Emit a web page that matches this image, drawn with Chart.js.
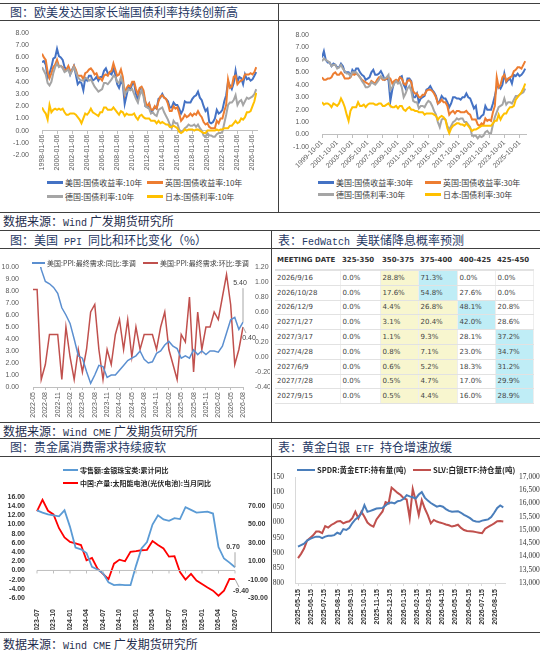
<!DOCTYPE html>
<html>
<head>
<meta charset="utf-8">
<script src="https://cdn.jsdelivr.net/npm/chart.js@4.4.1/dist/chart.umd.min.js"></script>
<style>
  body { margin: 0; width: 550px; height: 655px; background: #fff; position: relative; overflow: hidden;
         font-family: "Noto Sans CJK SC", sans-serif; }
  .hl { position: absolute; height: 0; border-top: 1.5px solid #404040; }
  .vl { position: absolute; width: 0; border-left: 1px solid #404040; }
  .title, .src { position: absolute; font-size: 12px; line-height: 14px; color: #1f3864; white-space: nowrap; }
  .src { color: #1f2d4d; }
  .lat { font-family: "Liberation Mono", monospace; font-size: 10px; }
  canvas { position: absolute; }
  .lg { position: absolute; font-size: 8px; line-height: 10px; color: #404040; white-space: nowrap; z-index: 2; }
  .lg i { display: inline-block; width: 16px; height: 3px; vertical-align: middle; margin-right: 2px; position: relative; top: -1px; }
  .lg.b { font-weight: bold; color: #262626; font-size: 7px; }
  #fed { position: absolute; left: 275px; top: 251px; width: 258px; border-collapse: collapse; table-layout: fixed;
         font-family: "DejaVu Sans", sans-serif; font-size: 7px; color: #444; }
  #fed th { font-weight: bold; text-align: left; height: 18px; padding: 0 0 0 2px; border-bottom: 2px solid #e2e2e2; color: #333; }
  #fed td { height: 13.8px; padding: 0 0 0 2px; border-bottom: 1.5px solid #e2e2e2; border-right: 1px solid #eee; }
  #fed td.ye { background: #f8f6cf; }
  #fed td.cy { background: #bfedf6; }
</style>
</head>
<body>

<!-- frame lines -->
<div class="hl" style="left:0;top:3px;width:540px"></div>
<div class="hl" style="left:0;top:20px;width:540px"></div>
<div class="vl" style="left:278px;top:3px;height:209px"></div>
<div class="hl" style="left:0;top:212px;width:540px"></div>

<div class="hl" style="left:0;top:230px;width:540px"></div>
<div class="hl" style="left:0;top:248px;width:540px"></div>
<div class="vl" style="left:271px;top:230px;height:192px"></div>
<div class="hl" style="left:0;top:422px;width:540px"></div>

<div class="hl" style="left:0;top:438px;width:540px"></div>
<div class="hl" style="left:0;top:456px;width:540px"></div>
<div class="vl" style="left:271px;top:438px;height:194px"></div>
<div class="hl" style="left:0;top:632px;width:540px"></div>

<div class="title" style="left:10px;top:5px">图：欧美发达国家长端国债利率持续创新高</div>
<div class="src" style="left:3px;top:214px">数据来源：<span class="lat">Wind</span> 广发期货研究所</div>
<div class="title" style="left:10px;top:233px">图：美国<span class="lat"> PPI </span>同比和环比变化（%）</div>
<div class="title" style="left:278px;top:233px">表：<span class="lat">FedWatch </span>美联储降息概率预测</div>
<div class="src" style="left:3px;top:424px">数据来源：<span class="lat">Wind CME</span> 广发期货研究所</div>
<div class="title" style="left:10px;top:440px">图：贵金属消费需求持续疲软</div>
<div class="title" style="left:278px;top:440px">表：黄金白银<span class="lat"> ETF </span>持仓增速放缓</div>
<div class="src" style="left:3px;top:637px">数据来源：<span class="lat">Wind CME</span> 广发期货研究所</div>

<canvas id="c1" width="276" height="150" style="left:0;top:22px"></canvas>
<canvas id="c2" width="260" height="150" style="left:280px;top:22px"></canvas>
<canvas id="c3" width="270" height="168" style="left:0;top:250px"></canvas>
<canvas id="c5" width="270" height="172" style="left:0;top:458px"></canvas>
<canvas id="c6" width="267" height="172" style="left:273px;top:458px"></canvas>
<table id="fed"><colgroup><col style="width:65px"><col style="width:40px"><col style="width:38px"><col style="width:39px"><col style="width:38px"><col style="width:38px"></colgroup></table>

<!-- legends -->
<div class="lg" style="left:47px;top:178px"><i style="background:#4472c4"></i>美国:国债收益率:10年</div>
<div class="lg" style="left:147px;top:178px"><i style="background:#ed7d31"></i>英国:国债收益率:10年</div>
<div class="lg" style="left:47px;top:192px"><i style="background:#a5a5a5"></i>德国:国债利率:10年</div>
<div class="lg" style="left:147px;top:192px"><i style="background:#ffc000"></i>日本:国债利率:10年</div>

<div class="lg" style="left:318px;top:178px"><i style="background:#4472c4"></i>美国:国债收益率:30年</div>
<div class="lg" style="left:425px;top:178px"><i style="background:#ed7d31"></i>英国:国债收益率:30年</div>
<div class="lg" style="left:318px;top:190px"><i style="background:#a5a5a5"></i>德国:国债利率:30年</div>
<div class="lg" style="left:425px;top:190px"><i style="background:#ffc000"></i>日本:国债利率:30年</div>

<div class="lg" style="left:32px;top:258px;font-size:7px"><i style="background:#5b8fd0;width:13px;height:2px"></i>美国:PPI:最终需求:同比:季调</div>
<div class="lg" style="left:143px;top:258px;font-size:7px"><i style="background:#c0504d;width:15px;height:2px"></i>美国:PPI:最终需求:环比:季调</div>

<div class="lg b" style="left:63px;top:465px"><i style="background:#5b9bd5;width:15px;height:2px"></i>零售额:金银珠宝类:累计同比</div>
<div class="lg b" style="left:63px;top:478px"><i style="background:#ff0000;width:15px;height:2px"></i>中国:产量:太阳能电池(光伏电池):当月同比</div>

<div class="lg b" style="left:297px;top:465px;font-size:7.5px"><i style="background:#4a7ebb;width:18px;height:2px"></i>SPDR:黄金ETF:持有量(吨)</div>
<div class="lg b" style="left:413px;top:465px;font-size:7.5px"><i style="background:#c0504d;width:18px;height:2px"></i>SLV:白银ETF:持仓量(吨)</div>

<script>
// ---------- data ----------
// 10y yields, quarterly from 1998Q1
const y10Start = 1998;
const us10 = [5.6,5.7,5.4,4.3, 4.7,5.2,5.9,6.0, 6.7,6.1,6.0,5.8, 5.2,5.0,5.2,4.6, 5.0,5.3,4.6,3.8,
  4.0,3.9,3.3,4.3, 4.1,4.5,4.5,4.1, 4.2,4.4,4.1,4.4, 4.4,4.9,5.1,4.7, 4.7,4.6,5.1,4.6,
  3.8,3.5,4.0,3.8, 2.2,2.9,3.6,3.4, 3.8,3.9,3.0,2.5, 3.4,3.5,3.1,2.0, 1.9,2.2,1.5,1.7,
  1.9,1.8,2.6,2.7, 3.0,2.7,2.6,2.4, 1.9,1.9,2.3,2.1, 2.1,1.8,1.4,1.7, 2.4,2.3,2.3,2.3,
  2.6,2.8,2.9,3.2, 2.7,2.5,2.0,1.6, 1.8,0.7,0.6,0.7, 1.0,1.7,1.4,1.5, 1.7,2.4,2.9,4.0,
  3.7,3.4,3.9,4.9, 4.0,4.4,4.3,3.8, 4.6,4.2,4.3,4.1, 4.2,4.5,4.8];
const uk10 = [6.3,6.0,5.8,4.8, 4.3,4.7,5.2,5.4, 5.8,5.3,5.3,5.2, 4.9,5.0,5.3,4.9, 4.9,5.3,5.0,4.5,
  4.5,4.5,4.2,4.7, 4.8,5.0,5.1,4.9, 4.6,4.7,4.3,4.3, 4.1,4.5,4.6,4.5, 4.8,4.9,5.5,5.0,
  4.5,4.6,5.0,4.4, 3.0,3.5,3.7,3.6, 4.0,4.0,3.4,3.0, 3.5,3.6,3.3,2.4, 2.0,2.2,1.7,1.7,
  2.0,1.8,2.4,2.8, 2.9,2.7,2.6,2.2, 1.6,1.6,2.0,1.8, 1.9,1.4,0.8,1.0, 1.3,1.1,1.2,1.4,
  1.2,1.4,1.3,1.6, 1.3,1.1,0.7,0.5, 0.6,0.3,0.2,0.2, 0.2,0.8,0.6,1.0, 1.0,1.6,2.1,4.2,
  3.5,3.6,4.4,4.5, 3.8,4.0,4.1,4.2, 4.6,4.6,4.6,4.7, 4.6,4.8,5.2];
const de10 = [5.2,4.9,4.6,3.9, 3.7,4.0,4.7,5.2, 5.5,5.2,5.3,5.1, 4.8,4.9,5.0,4.6, 4.9,5.2,4.8,4.4,
  4.2,4.1,4.1,4.3, 4.3,4.1,4.2,3.9, 3.6,3.4,3.2,3.3, 3.4,3.9,3.9,3.8, 4.0,4.2,4.5,4.4,
  4.0,3.9,4.4,3.9, 3.0,3.2,3.4,3.3, 3.4,3.0,2.6,2.3, 2.9,3.3,2.8,2.0, 1.9,1.8,1.4,1.5,
  1.3,1.2,1.7,1.8, 1.9,1.5,1.2,0.9, 0.5,0.2,0.8,0.6, 0.6,0.1,-0.1,0.0, 0.2,0.3,0.5,0.4,
  0.4,0.5,0.3,0.5, 0.2,0.0,-0.4,-0.5, -0.2,-0.4,-0.4,-0.5, -0.5,-0.3,-0.2,-0.2, -0.1,0.6,1.3,2.1,
  2.3,2.3,2.5,2.9, 2.1,2.4,2.5,2.1, 2.4,2.7,2.6,2.7, 2.8,3.0,3.4];
const jp10 = [1.9,1.6,1.4,0.9, 2.1,1.5,1.7,1.8, 1.7,1.8,1.7,1.8, 1.5,1.3,1.3,1.4, 1.4,1.4,1.3,1.1,
  0.9,0.6,1.0,1.4, 1.3,1.5,1.8,1.5, 1.4,1.3,1.2,1.5, 1.5,1.9,1.9,1.7, 1.7,1.7,1.9,1.7,
  1.5,1.3,1.6,1.5, 1.2,1.4,1.3,1.3, 1.3,1.4,1.1,0.9, 1.2,1.3,1.1,1.0, 1.0,1.0,0.8,0.8,
  0.8,0.6,0.8,0.6, 0.7,0.6,0.5,0.5, 0.3,0.3,0.4,0.3, 0.2,-0.1,-0.2,-0.1, 0.1,0.0,0.1,0.1,
  0.1,0.0,0.1,0.1, 0.0,-0.1,-0.2,-0.2, 0.0,0.0,0.0,0.0, 0.0,0.1,0.0,0.1, 0.1,0.2,0.2,0.2,
  0.4,0.4,0.6,0.8, 0.6,0.7,1.0,0.9, 1.1,1.5,1.5,1.6, 2.0,2.4,3.1];
const y10Ticks = ['1998-01-06','2000-01-06','2002-01-06','2004-01-06','2006-01-06','2008-01-06','2010-01-06',
  '2012-01-06','2014-01-06','2016-01-06','2018-01-06','2020-01-06','2022-01-06','2024-01-06','2026-01-06'];

// 30y yields, quarterly from 1999Q4
const y30Start = 1999.75;
const us30 = [6.2, 6.7,6.0,5.8,5.8, 5.5,5.7,5.6,5.4, 5.4,5.7,5.5,5.0, 5.0,5.0,4.7,5.2, 5.0,5.3,5.3,5.0,
  4.8,4.7,4.4,4.5, 4.6,5.0,5.2,4.8, 4.8,4.9,5.1,4.8, 4.4,4.5,4.4,2.7, 3.6,4.2,4.3,4.2,
  4.6,4.7,4.0,3.7, 4.5,4.5,4.3,3.0, 3.0,3.3,2.6,2.9, 3.0,3.1,3.6,3.7, 3.9,3.6,3.4,3.1,
  2.5,2.7,3.1,2.9, 2.9,2.6,2.2,2.5, 3.0,3.0,2.9,2.9, 2.8,3.0,3.0,3.3, 3.0,2.9,2.5,2.1,
  2.3,1.3,1.3,1.5, 1.6,2.3,2.0,2.0, 2.0,2.5,3.1,3.8, 3.9,3.7,4.0,4.9, 4.2,4.4,4.5,4.1,
  4.8,4.7,4.9,4.7, 4.8,5.0,5.3];
const uk30 = [4.6, 4.4,4.4,4.5,4.5, 4.6,4.9,5.0,4.8, 4.8,5.0,4.8,4.5, 4.5,4.5,4.6,4.9, 4.8,4.9,4.8,4.6,
  4.4,4.3,4.2,4.1, 4.0,4.3,4.2,4.1, 4.4,4.6,4.6,4.4, 4.4,4.5,4.6,4.5, 4.1,4.3,4.4,4.3,
  4.6,4.5,4.1,4.0, 4.3,4.4,4.2,3.5, 3.3,3.3,3.0,3.0, 3.2,3.2,3.5,3.6, 3.6,3.5,3.3,3.0,
  2.5,2.6,2.8,2.6, 2.6,2.3,1.6,1.8, 1.9,1.7,1.9,1.9, 1.8,1.8,1.8,1.9, 1.7,1.6,1.2,1.2,
  1.2,0.8,0.7,0.9, 0.8,1.3,1.1,1.2, 1.1,1.8,2.3,4.6, 3.8,4.0,4.6,4.8, 4.3,4.5,4.6,4.7,
  5.1,5.2,5.4,5.4, 5.3,5.6,5.9];
const de30 = [5.9, 6.1,6.0,5.9,5.8, 5.5,5.6,5.6,5.3, 5.4,5.6,5.3,5.1, 4.9,4.9,4.7,5.0, 5.0,5.0,4.8,4.6,
  4.3,4.1,3.8,3.8, 3.9,4.2,4.1,4.0, 4.2,4.4,4.7,4.5, 4.5,4.6,4.8,3.6, 3.8,4.1,4.3,4.1,
  4.2,3.8,3.0,3.3, 3.7,3.9,3.5,2.7, 2.6,2.6,2.1,2.3, 2.3,2.2,2.5,2.7, 2.6,2.3,1.9,1.6,
  1.0,0.6,1.2,1.3, 1.2,0.7,0.4,0.7, 1.0,1.1,1.3,1.2, 1.3,1.3,1.0,1.0, 0.8,0.6,-0.1,-0.1,
  -0.1,-0.3,-0.1,-0.2, -0.1,0.2,0.3,0.1, 0.1,0.8,1.4,1.8, 2.2,2.3,2.4,2.9, 2.4,2.6,2.6,2.5,
  2.8,3.1,3.1,3.2, 3.3,3.4,3.7];
const jp30 = [2.6, 2.4,2.5,2.5,2.4, 2.2,2.5,2.4,2.3, 2.5,2.9,2.6,2.2, 1.6,1.1,1.9,2.2, 2.2,2.2,2.6,2.3,
  2.3,2.4,2.2,2.4, 2.5,2.5,2.5,2.4, 2.4,2.5,2.5,2.3, 2.3,2.4,2.5,2.3, 2.2,2.2,2.3,2.1,
  2.3,2.3,2.0,1.9, 2.1,2.2,2.0,2.0, 1.9,1.9,1.8,1.8, 1.8,1.6,1.7,1.7, 1.7,1.7,1.6,1.5,
  1.2,1.4,1.5,1.4, 1.2,0.5,0.1,0.5, 0.7,0.8,0.9,0.9, 0.8,0.8,0.7,0.9, 0.7,0.5,0.3,0.4,
  0.4,0.5,0.6,0.7, 0.7,0.7,0.7,0.7, 0.7,0.9,1.1,1.1, 1.6,1.2,1.5,1.7, 1.7,2.0,2.2,2.2,
  2.3,2.8,3.0,3.2, 3.4,3.7,4.1];
const y30Ticks = ['1999-10-01','2001-10-01','2003-10-01','2005-10-01','2007-10-01','2009-10-01','2011-10-01',
  '2013-10-01','2015-10-01','2017-10-01','2019-10-01','2021-10-01','2023-10-01','2025-10-01'];

// US PPI, monthly
const ppiMonths = ['2022-05','2022-06','2022-07','2022-08','2022-09','2022-10','2022-11','2022-12',
  '2023-01','2023-02','2023-03','2023-04','2023-05','2023-06','2023-07','2023-08','2023-09','2023-10','2023-11','2023-12',
  '2024-01','2024-02','2024-03','2024-04','2024-05','2024-06','2024-07','2024-08','2024-09','2024-10','2024-11','2024-12',
  '2025-01','2025-02','2025-03','2025-04','2025-05','2025-06','2025-07','2025-08','2025-09','2025-10','2025-11','2025-12',
  '2026-01','2026-02','2026-03','2026-04','2026-05','2026-06','2026-07','2026-08'];
const ppiYoy = [10.9,11.3,9.8,8.8,8.6,8.3,7.8,6.6, 6.0,5.3,4.0,2.6,2.4,1.3,0.3,1.0,1.8,1.7,0.8,1.0,
  1.0,1.4,1.8,2.2,2.4,2.6,3.0,2.3,2.0,2.1,2.8,3.0, 3.5,3.8,3.4,3.2,2.4,2.6,2.4,3.1,2.7,3.0,2.7,3.0,
  3.0,2.9,3.4,4.5,5.6,5.8,4.8,5.4];
const ppiMom = [0.9,0.9,-0.3,-0.1,0.3,0.3,0.3,-0.3, 0.4,0.0,-0.3,0.1,-0.2,0.1,0.6,0.7,0.1,-0.3,0.1,-0.1,
  0.3,0.5,0.1,0.5,0.0,0.4,0.1,0.3,0.3,0.3,0.1,0.4, 0.6,0.1,-0.1,-0.3,0.3,0.2,0.8,-0.2,0.6,0.1,0.4,0.4,
  0.6,0.5,0.8,1.1,0.7,-0.1,0.1,0.4];

// FedWatch
const fedDates = ['2026/9/16','2026/10/28','2026/12/9','2027/1/27','2027/3/17','2027/4/28','2027/6/9','2027/7/28','2027/9/15'];
const fedBuckets = ['325-350','350-375','375-400','400-425','425-450'];
const fedProbs = [
  [0.0, 28.8, 71.3, 0.0, 0.0],
  [0.0, 17.6, 54.8, 27.6, 0.0],
  [0.0, 4.4, 26.8, 48.1, 20.8],
  [0.0, 3.1, 20.4, 42.0, 28.6],
  [0.0, 1.1, 9.3, 28.1, 37.2],
  [0.0, 0.8, 7.1, 23.0, 34.7],
  [0.0, 0.6, 5.2, 18.3, 31.2],
  [0.0, 0.5, 4.7, 17.0, 29.9],
  [0.0, 0.5, 4.4, 16.0, 28.9]];
const fedYellowBuckets = ['350-375', '375-400'];

// precious metals demand, monthly
const pmMonths = ['2023-07','2023-08','2023-09','2023-10','2023-11','2023-12','2024-01','2024-02','2024-03','2024-04',
  '2024-05','2024-06','2024-07','2024-08','2024-09','2024-10','2024-11','2024-12','2025-01','2025-02','2025-03','2025-04',
  '2025-05','2025-06','2025-07','2025-08','2025-09','2025-10','2025-11','2025-12','2026-01','2026-02','2026-03','2026-04',
  '2026-05','2026-06','2026-07'];
const jewelry = [13.1,12.6,12.2,12.0,11.8,13.1,9.5,5.0,4.6,3.8,0.8,0.2,-0.6,-2.6,-3.2,-3.1,-3.2,-3.2,1.0,4.8,6.2,
  10.0,12.0,11.1,10.8,11.4,11.2,13.8,13.2,12.6,12.7,12.8,12.4,5.1,2.6,1.7,0.7];
const solarCells = [64.6,77.0,65.0,61.0,46.0,36.0,31.0,29.5,27.7,11.0,13.6,2.0,-3.7,-9.5,7.4,11.8,10.0,20.3,21.0,22.0,
  22.5,32.0,27.7,24.0,15.0,15.5,-1.8,-10.0,-3.7,-11.0,-14.8,-18.5,-22.0,-27.5,-22.0,-9.2,-9.4];
const pmRightTicks = [-30, -10, 10, 30, 50, 70];

// ETF holdings, weekly
const etfDates = ['2025-05-15','2025-05-22','2025-05-29','2025-06-05','2025-06-12','2025-06-19','2025-06-26',
  '2025-07-03','2025-07-10','2025-07-17','2025-07-24','2025-07-31','2025-08-07','2025-08-14','2025-08-21','2025-08-28',
  '2025-09-04','2025-09-11','2025-09-18','2025-09-25','2025-10-02','2025-10-09','2025-10-16','2025-10-23','2025-10-30',
  '2025-11-06','2025-11-13','2025-11-20','2025-11-27','2025-12-04','2025-12-11','2025-12-18','2025-12-25',
  '2026-01-01','2026-01-08','2026-01-15','2026-01-22','2026-01-29','2026-02-05','2026-02-12','2026-02-19','2026-02-26',
  '2026-03-05','2026-03-12','2026-03-19','2026-03-26','2026-04-02','2026-04-09','2026-04-16','2026-04-23','2026-04-30',
  '2026-05-07','2026-05-14','2026-05-21','2026-05-28','2026-06-04','2026-06-11','2026-06-18','2026-06-25',
  '2026-07-02','2026-07-09','2026-07-16','2026-07-23','2026-07-30','2026-08-06','2026-08-13','2026-08-20','2026-08-27',
  '2026-09-03'];
const spdrGold = [920,925,930,940,946,950,953,953,948,953,956,956,958,966,962,978,975,982,998,1010,1018,1030,1057,1035,
  1038,1042,1046,1047,1048,1056,1064,1066,1063,1070,1072,1078,1090,1086,1083,1079,1092,1100,1082,1072,1064,1058,1052,
  1055,1052,1044,1038,1035,1036,1037,1032,1025,1020,1014,1006,1003,1002,1006,1008,1010,1018,1032,1048,1056,1050];
const slvSilver = [13940,14100,14300,14600,14700,14800,14940,14940,14880,15150,15090,15190,15250,15320,15340,15250,
  15300,15330,15450,15690,15440,15690,15500,15280,15180,15125,15400,15550,15700,16050,16000,16600,16500,16400,16320,
  16200,16150,15450,16550,16100,15560,16125,15810,15560,15250,15380,15320,15280,15250,15210,15180,15130,15160,15200,
  15080,15000,14960,14950,14940,14920,14900,14880,15050,15120,15180,15250,15330,15340,15320];
const etfTicks = ['2025-05-15','2025-06-15','2025-07-15','2025-08-15','2025-09-15','2025-10-15','2025-11-15','2025-12-15',
  '2026-01-15','2026-02-15','2026-03-15','2026-04-15','2026-05-15','2026-06-15','2026-07-15','2026-08-15'];

// ---------- helpers ----------
Chart.defaults.font.family = '"Liberation Sans", Arial, sans-serif';
Chart.defaults.font.size = 7;
Chart.defaults.color = '#595959';
Chart.defaults.animation = false;
Chart.defaults.responsive = false;
Chart.defaults.plugins.legend.display = false;
Chart.defaults.plugins.tooltip.enabled = false;
Chart.defaults.elements.point.radius = 0;
Chart.defaults.elements.line.tension = 0;

const fix2 = v => (Math.round(v * 100) / 100).toFixed(2);
const quarterly = (arr, start) => arr.map((v, i) => ({ x: start + i * 0.25, y: v }));
const dayOf = s => (Date.parse(s) - Date.parse('2025-05-15')) / 86400000;

// leader-line labels on the last point + optional zero line
const extras = {
  id: 'extras',
  afterDatasetsDraw(chart, args, opts) {
    const ctx = chart.ctx;
    const area = chart.chartArea;
    if (opts.zeroLine) {
      const y = chart.scales.y.getPixelForValue(0);
      ctx.save();
      ctx.strokeStyle = '#bfbfbf';
      ctx.lineWidth = 1;
      ctx.beginPath();
      ctx.moveTo(area.left, y); ctx.lineTo(area.right, y);
      chart.scales.x.ticks.forEach(t => {
        const x = chart.scales.x.getPixelForValue(t.value);
        ctx.moveTo(x, y); ctx.lineTo(x, y + 3);
      });
      ctx.stroke();
      ctx.restore();
    }
    (opts.labels || []).forEach(it => {
      const meta = chart.getDatasetMeta(it.ds);
      const pt = meta.data[meta.data.length - 1];
      const tx = pt.x + it.dx, ty = pt.y + it.dy;
      ctx.save();
      ctx.strokeStyle = '#a6a6a6';
      ctx.lineWidth = 1;
      ctx.beginPath();
      ctx.moveTo(pt.x, pt.y);
      ctx.lineTo(it.lx !== undefined ? pt.x + it.lx : tx, it.ly !== undefined ? pt.y + it.ly : ty);
      ctx.stroke();
      ctx.fillStyle = '#404040';
      ctx.font = (it.bold ? 'bold ' : '') + '7px "Liberation Sans", Arial';
      ctx.textAlign = 'center';
      ctx.textBaseline = 'middle';
      ctx.fillText(it.text, tx, ty);
      ctx.restore();
    });
  }
};

function yieldChart(id, series, start, xMin, xMax, tickLabels, tickStart, yMin, yMax, rot, pad) {
  const colors = ['#4472c4', '#ed7d31', '#a5a5a5', '#ffc000'];
  return new Chart(document.getElementById(id), {
    type: 'line',
    data: {
      datasets: series.map((s, i) => ({
        data: quarterly(s, start),
        borderColor: colors[i],
        borderWidth: 2,
        order: 4 - i
      }))
    },
    options: {
      layout: { padding: pad },
      scales: {
        x: {
          type: 'linear', position: { y: 0 }, min: xMin, max: xMax,
          afterBuildTicks: s => { s.ticks = tickLabels.map((_, i) => ({ value: tickStart + 2 * i })); },
          ticks: { callback: (v, i) => tickLabels[i], autoSkip: false, maxRotation: rot, minRotation: rot, padding: 1 },
          grid: { drawOnChartArea: false, tickLength: 3, color: '#bfbfbf' },
          border: { color: '#bfbfbf' }
        },
        y: {
          min: yMin, max: yMax,
          ticks: { stepSize: 1, callback: fix2, padding: 5, autoSkip: false },
          grid: { display: false },
          border: { display: false },
          afterFit: s => { s.width = 42; }
        }
      }
    }
  });
}

yieldChart('c1', [us10, uk10, de10, jp10], y10Start, 1998, 2026.6, y10Ticks, 1998, -2, 8, 90,
  { top: 11, bottom: 17, right: 19, left: 0 });
yieldChart('c2', [us30, uk30, de30, jp30], y30Start, 1999.75, 2026.6, y30Ticks, 1999.75, -1, 8, 45,
  { top: 13, bottom: 25, right: 14, left: 0 });

// PPI chart
new Chart(document.getElementById('c3'), {
  type: 'line',
  data: {
    labels: ppiMonths,
    datasets: [
      { data: ppiYoy, borderColor: '#5b8fd0', borderWidth: 1.5, yAxisID: 'y' },
      { data: ppiMom, borderColor: '#c0504d', borderWidth: 1.5, yAxisID: 'y1' }
    ]
  },
  options: {
    layout: { padding: { top: 17 } },
    plugins: {
      extras: {
        labels: [
          { ds: 0, text: fix2(ppiYoy[ppiYoy.length - 1]), dx: -3, dy: -39, lx: 0, ly: -34 },
          { ds: 1, text: fix2(ppiMom[ppiMom.length - 1]), dx: 6, dy: 11, lx: 3, ly: 6 }
        ]
      }
    },
    scales: {
      x: {
        afterBuildTicks: s => { s.ticks = s.ticks.filter(t => t.value % 3 === 0); },
        ticks: { autoSkip: false, maxRotation: 90, minRotation: 90, padding: 2 },
        grid: { drawOnChartArea: false, tickLength: 3, color: '#bfbfbf' },
        border: { color: '#bfbfbf' },
        afterFit: s => { s.height = 31; }
      },
      y: {
        min: 0, max: 10,
        ticks: { stepSize: 1, callback: fix2, padding: 6, autoSkip: false },
        grid: { display: false }, border: { display: false },
        afterFit: s => { s.width = 33; }
      },
      y1: {
        position: 'right', min: -0.4, max: 1.2,
        ticks: { stepSize: 0.2, callback: fix2, padding: 4, autoSkip: false },
        grid: { display: false }, border: { display: false },
        afterFit: s => { s.width = 27; }
      }
    }
  },
  plugins: [extras]
});

// precious metals chart
new Chart(document.getElementById('c5'), {
  type: 'line',
  data: {
    labels: pmMonths,
    datasets: [
      { data: jewelry, borderColor: '#5b9bd5', borderWidth: 1.8, yAxisID: 'y' },
      { data: solarCells, borderColor: '#ff0000', borderWidth: 1.8, yAxisID: 'y1' }
    ]
  },
  options: {
    layout: { padding: { top: 39 } },
    plugins: {
      extras: {
        zeroLine: true,
        labels: [
          { ds: 0, text: fix2(jewelry[jewelry.length - 1]), dx: -2, dy: -20, lx: 0, ly: -15, bold: true },
          { ds: 1, text: fix2(solarCells[solarCells.length - 1]), dx: 6, dy: 12, lx: 4, ly: 8, bold: true }
        ]
      }
    },
    scales: {
      x: {
        afterBuildTicks: s => { s.ticks = s.ticks.filter(t => t.value % 3 === 0); },
        ticks: { autoSkip: false, maxRotation: 90, minRotation: 90, padding: 3, font: { weight: 'bold' }, color: '#333' },
        grid: { display: false }, border: { display: false },
        afterFit: s => { s.height = 32; }
      },
      y: {
        min: -6, max: 16,
        ticks: { stepSize: 2, callback: fix2, padding: 4, autoSkip: false, font: { weight: 'bold' }, color: '#333' },
        grid: { display: false }, border: { display: false },
        afterFit: s => { s.width = 37; }
      },
      y1: {
        position: 'right', min: -30, max: 80,
        afterBuildTicks: s => { s.ticks = pmRightTicks.map(v => ({ value: v })); },
        ticks: { callback: fix2, padding: 5, autoSkip: false, font: { weight: 'bold' }, color: '#333' },
        grid: { display: false }, border: { display: false },
        afterFit: s => { s.width = 35; }
      }
    }
  },
  plugins: [extras]
});

// ETF chart
new Chart(document.getElementById('c6'), {
  type: 'line',
  data: {
    datasets: [
      { data: etfDates.map((d, i) => ({ x: dayOf(d), y: spdrGold[i] })), borderColor: '#4a7ebb', borderWidth: 2, yAxisID: 'y' },
      { data: etfDates.map((d, i) => ({ x: dayOf(d), y: slvSilver[i] })), borderColor: '#c0504d', borderWidth: 2, yAxisID: 'y1' }
    ]
  },
  options: {
    layout: { padding: { top: 19 } },
    scales: {
      x: {
        type: 'linear', min: -7, max: 480,
        afterBuildTicks: s => { s.ticks = etfTicks.map(d => ({ value: dayOf(d) })); },
        ticks: { callback: (v, i) => etfTicks[i], autoSkip: false, maxRotation: 90, minRotation: 90, padding: 3,
                 font: { weight: 'bold' }, color: '#333' },
        grid: { drawOnChartArea: false, tickLength: 3, color: '#d9d9d9' },
        border: { color: '#d9d9d9' },
        afterFit: s => { s.height = 47; }
      },
      y: {
        min: 800, max: 1150,
        ticks: { stepSize: 50, padding: 3, autoSkip: false, font: { family: '"Liberation Serif", serif', size: 7.5 }, color: '#333' },
        grid: { display: false }, border: { color: '#d9d9d9' },
        afterFit: s => { s.width = 22; }
      },
      y1: {
        position: 'right', min: 13000, max: 17000,
        ticks: { stepSize: 500, padding: 6, autoSkip: false, font: { family: '"Liberation Serif", serif', size: 7.5 }, color: '#333' },
        grid: { display: false }, border: { display: false },
        afterFit: s => { s.width = 35; }
      }
    }
  }
});

// FedWatch table: cyan = most likely bucket, yellow = highlighted buckets
(function () {
  const tbl = document.getElementById('fed');
  let html = '<tr><th>MEETING DATE</th>' + fedBuckets.map(b => '<th>' + b + '</th>').join('') + '</tr>';
  fedDates.forEach((d, r) => {
    const row = fedProbs[r];
    const mx = row.indexOf(Math.max(...row));
    html += '<tr><td>' + d + '</td>' + row.map((v, c) => {
      const cls = c === mx ? 'cy' : (fedYellowBuckets.includes(fedBuckets[c]) ? 'ye' : '');
      return '<td class="' + cls + '">' + v.toFixed(1) + '%</td>';
    }).join('') + '</tr>';
  });
  tbl.insertAdjacentHTML('beforeend', html);
})();
</script>
</body>
</html>
